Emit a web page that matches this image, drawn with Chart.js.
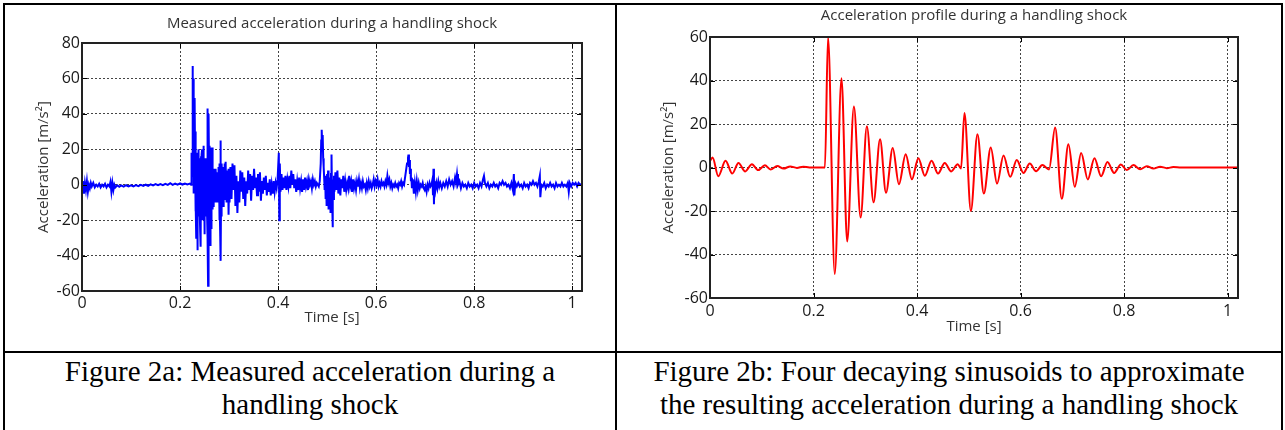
<!DOCTYPE html>
<html>
<head>
<meta charset="utf-8">
<script src="https://cdn.jsdelivr.net/npm/chart.js@4.4.1/dist/chart.umd.min.js"></script>
<style>
  body { margin: 0; background: #fff; }
  #page { position: relative; width: 1285px; height: 430px; overflow: hidden; }
  .rule { position: absolute; background: #000; }
  .box { position: absolute; }
  .caption {
    position: absolute; text-align: center; color: #000;
    font-family: "Liberation Serif", "Times New Roman", serif;
    font-size: 29px; line-height: 33px;
  }
</style>
</head>
<body>
<div id="page">
  <div class="box" style="left:4px; top:4px; width:612px; height:346px;"><canvas id="measuredChart" width="612" height="346"></canvas></div>
  <div class="box" style="left:618px; top:4px; width:663px; height:346px;"><canvas id="profileChart" width="663" height="346"></canvas></div>

  <div class="rule" style="left:3px; top:3px; width:1280px; height:2px;"></div>
  <div class="rule" style="left:3px; top:3px; width:2px; height:427px;"></div>
  <div class="rule" style="left:615px; top:3px; width:2px; height:427px;"></div>
  <div class="rule" style="left:1281px; top:3px; width:2px; height:427px;"></div>
  <div class="rule" style="left:3px; top:351px; width:1280px; height:2px;"></div>

  <div class="caption" style="left:5px; top:355px; width:610px;">Figure 2a: Measured acceleration during a<br>handling shock</div>
  <div class="caption" style="left:617px; top:355px; width:664px;">Figure 2b: Four decaying sinusoids to approximate<br>the resulting acceleration during a handling shock</div>
</div>

<script>
// measured signal as [time s, accel m/s^2]
const measuredQuiet = [
  [0,-2],[0.002,2],[0.004,-5],[0.006,1],[0.008,-3],[0.010,2],[0.012,-4],[0.014,0],[0.016,-2],[0.018,1],
  [0.020,-1],[0.023,1],[0.026,-1.5],[0.029,0],[0.032,-1],[0.035,0.5],[0.038,-1.5],[0.041,0],[0.044,-1],
  [0.047,0.5],[0.050,-1.5],[0.053,0],[0.056,-1],[0.058,1.5],[0.060,-4],[0.062,1],[0.064,-3],[0.066,0],
  [0.068,-1.5],[0.072,-0.3],[0.076,-1.2],[0.080,-0.4],[0.085,-1.1],[0.090,-0.3],[0.095,-1],[0.100,-0.3],
  [0.105,-0.9],[0.110,-0.2],[0.115,-0.8],[0.120,-0.1],[0.125,-0.7],[0.130,0],[0.135,-0.6],[0.140,0.2],
  [0.145,-0.4],[0.150,0.3],[0.155,-0.3],[0.160,0.4],[0.165,-0.2],[0.170,0.5],[0.175,-0.1],[0.180,0.9],
  [0.185,-0.1],[0.190,0.6],[0.195,0],[0.200,0.7],[0.205,0.1],[0.210,0.7],[0.215,0.2],[0.220,0.6]
];
const measuredShock = [
  [0.2225,0],[0.2235,18],[0.2245,5],[0.2255,67],[0.2262,30],[0.2270,60],[0.2278,-5],[0.2285,48],
  [0.2290,25],[0.2295,10],[0.2300,35],[0.2305,49],[0.2308,8],[0.2312,-15],[0.2316,30],[0.2320,20],
  [0.2325,-10],[0.2330,-30],[0.2334,18],[0.2338,12],[0.2342,-8],[0.2345,-22],[0.2348,10],[0.2352,15],
  [0.2356,-14],[0.2360,-37],[0.2364,12],[0.2368,5],[0.2372,-18],[0.2375,-12],[0.2379,14],[0.2383,20],
  [0.2388,-15],[0.2392,-8],[0.2396,15],[0.2400,6],[0.2405,-12],[0.2410,-25],[0.2414,6],[0.2418,14],
  [0.2422,-10],[0.2425,-35],[0.2429,16],[0.2433,8],[0.2438,-14],[0.2442,-5],[0.2446,17],[0.2450,20],
  [0.2454,-8],[0.2458,-20],[0.2462,15],[0.2466,12],[0.2470,-16],[0.2475,-10],[0.2479,10],[0.2483,22],
  [0.2487,-12],[0.2490,0],[0.2494,12],[0.2498,-28],[0.2502,14],[0.2505,5],[0.2508,-10],[0.2512,15],
  [0.2516,-6],[0.2520,-18],[0.2524,10],[0.2528,4],[0.2532,-14],[0.2535,-8],[0.2538,8],[0.2542,12],
  [0.2546,-10],[0.2550,-15],[0.2554,18],[0.2558,43],[0.2562,5],[0.2565,-10],[0.2569,-30],[0.2572,-57],
  [0.2576,0],[0.2580,10],[0.2584,-12],[0.2588,40],[0.2592,8],[0.2596,-20],[0.2600,5],[0.2604,22],
  [0.2608,-12],[0.2612,-34],[0.2616,10],[0.2620,21],[0.2624,-14],[0.2628,-8],[0.2632,12],[0.2636,20],
  [0.2640,-6],[0.2644,-25],[0.2648,6],[0.2652,21],[0.2656,-10],[0.2660,0],[0.2664,-14],[0.2668,10],
  [0.2672,-4],[0.2676,-12],[0.2680,8],[0.2684,6],[0.2688,-9],[0.2692,-5],[0.2696,9],[0.2700,4],
  [0.2704,-10],[0.2708,-8],[0.2712,8],[0.2716,6],[0.2720,-8],[0.2724,-3],[0.2730,9],[0.2735,5],
  [0.2740,-10],[0.2745,-4],[0.2750,7],[0.2755,2],[0.2760,-9],[0.2765,-6],[0.2770,6],[0.2775,3],
  [0.2780,-4],[0.2785,-10],[0.2790,10],[0.2795,4],[0.2798,-8],[0.2802,-20],[0.2806,12],[0.2810,8],
  [0.2814,-6],[0.2818,-26],[0.2822,6],[0.2826,25],[0.2830,-12],[0.2834,-43],[0.2838,0],[0.2842,10],
  [0.2846,-6],[0.2850,-18],[0.2854,12],[0.2858,5],[0.2862,-4],[0.2866,-10],[0.2870,8],[0.2875,3],
  [0.2880,-12],[0.2885,-6],[0.2890,4],[0.2895,10],[0.2900,-8],[0.2905,-3],[0.2910,6],[0.2915,12],
  [0.2920,-2],[0.2925,-8],[0.2930,6],[0.2935,13],[0.2940,-4],[0.2945,5],[0.2950,-2],[0.2955,-10],
  [0.2960,4],[0.2965,8],[0.2970,-10],[0.2975,-5],[0.2980,5],[0.2985,9],[0.2990,-6],[0.2995,-17],
  [0.3000,2],[0.3005,4],[0.3010,-6],[0.3015,-10],[0.3020,8],[0.3025,6]
];
const measuredMid = [
  [0.303,10],[0.305,-8],[0.307,12],[0.309,-3],[0.311,11],[0.313,-12],[0.315,5],[0.317,-16],[0.319,2],
  [0.321,-10],[0.323,8],[0.325,-4],[0.327,7],[0.329,-8],[0.331,4],[0.333,-12],[0.335,2],[0.337,-5],
  [0.339,8],[0.341,-3],[0.343,6],[0.345,-9],[0.347,5],[0.349,-3],[0.351,9],[0.353,-2],[0.355,4],
  [0.357,-6],[0.359,6],[0.361,-4],[0.363,7],[0.365,-9],[0.367,2],[0.369,-5],[0.371,4],[0.373,-3],
  [0.375,5],[0.377,-6],[0.379,1],[0.381,-4],[0.383,3],[0.385,-6],[0.387,0],[0.389,-5],[0.391,2],
  [0.393,-4],[0.395,1],[0.397,-2],[0.399,3],[0.4015,18],[0.4025,-20],[0.4035,12],[0.405,-4],[0.407,6],
  [0.409,-3],[0.411,4],[0.413,-2],[0.415,5],[0.417,-3],[0.419,3],[0.421,-1],[0.423,5],[0.425,-2],
  [0.427,8],[0.429,0],[0.431,6],[0.433,-2],[0.435,3],[0.437,-4],[0.439,2],[0.441,-3],[0.443,4],
  [0.445,-2],[0.447,2],[0.449,-4],[0.451,3],[0.453,-3],[0.455,4],[0.457,-1],[0.459,2],[0.461,-3],
  [0.463,3],[0.465,0],[0.467,2],[0.469,-2],[0.471,3],[0.473,0],[0.475,2],[0.477,-1],[0.479,1],
  [0.481,0],[0.483,-1],[0.485,2],[0.487,12],[0.488,25],[0.489,31],[0.490,22],[0.491,28],[0.492,15],
  [0.493,10],[0.494,4],[0.495,-3],[0.496,5],[0.497,-8],[0.498,3],[0.499,-12],[0.500,6],[0.501,-5],
  [0.502,8],[0.503,-14],[0.504,2],[0.505,-10],[0.506,4],[0.507,-16],[0.508,6],[0.509,17],[0.510,-6],
  [0.511,-24],[0.512,3],[0.513,-8],[0.514,5],[0.515,-4],[0.517,7],[0.519,-3],[0.521,8],[0.523,-5],
  [0.525,4],[0.527,-6],[0.529,3],[0.531,-2],[0.533,5],[0.535,-4],[0.537,2],[0.539,-3],[0.541,1],
  [0.543,-2],[0.545,5],[0.547,-1],[0.549,2],[0.551,-4],[0.553,3],[0.555,-2],[0.557,1],[0.559,-3],
  [0.561,2],[0.563,-1],[0.565,3],[0.567,-2],[0.569,1],[0.571,-2],[0.573,2],[0.575,-1],[0.577,0],
  [0.579,-3],[0.581,1],[0.583,-2],[0.585,2],[0.587,-1],[0.589,1],[0.591,-2],[0.593,0],[0.595,3],
  [0.597,-1],[0.599,2],[0.601,0],[0.603,3],[0.605,-1],[0.607,1],[0.609,-1],[0.611,2],[0.613,0],
  [0.615,1],[0.617,-1],[0.619,2],[0.621,0],[0.623,5],[0.625,1],[0.627,3],[0.629,-1],[0.631,1],
  [0.633,-2],[0.635,0],[0.637,-1],[0.639,1],[0.641,-1],[0.643,0],[0.645,-2],[0.647,1],[0.649,0],
  [0.651,2],[0.653,-1],[0.655,1],[0.657,0],[0.659,4],[0.661,8],[0.663,12],[0.665,15],[0.666,17],
  [0.667,10],[0.668,14],[0.669,6],[0.670,9],[0.671,2],[0.672,4],[0.673,-2],[0.675,3],[0.677,-5],
  [0.679,1],[0.681,-4],[0.683,2],[0.685,-3],[0.687,1],[0.689,-2],[0.691,0],[0.693,-1],[0.695,1],
  [0.697,-2],[0.699,-3],[0.701,-1],[0.703,-4],[0.705,0],[0.707,-2],[0.709,1],[0.711,-1],[0.713,0]
];
const measuredTail = [
  [0.715,3],[0.716,-6],[0.717,9],[0.718,-11],[0.719,2],[0.721,-3],[0.723,1],[0.725,-2],[0.727,2],
  [0.729,-1],[0.731,1],[0.734,-2],[0.737,1],[0.740,-1],[0.743,2],[0.746,-1],[0.749,3],[0.752,0],
  [0.755,2],[0.758,-1],[0.761,4],[0.763,1],[0.765,6],[0.767,0],[0.770,2],[0.773,-2],[0.776,1],
  [0.779,-1],[0.782,0],[0.785,-2],[0.788,1],[0.791,-1],[0.794,0],[0.797,-2],[0.800,1],[0.803,-1],
  [0.806,0],[0.809,-2],[0.812,1],[0.815,-1],[0.818,3],[0.820,5],[0.822,1],[0.825,-1],[0.828,1],
  [0.831,-2],[0.834,0],[0.837,-1],[0.840,1],[0.843,-1],[0.846,0],[0.849,-2],[0.852,1],[0.855,0],
  [0.858,2],[0.861,0],[0.864,1],[0.867,-1],[0.870,0],[0.873,-2],[0.876,1],[0.879,-3],[0.881,6],
  [0.882,-6],[0.884,1],[0.887,-1],[0.890,1],[0.893,-1],[0.896,0],[0.899,-2],[0.902,1],[0.905,-1],
  [0.908,0],[0.911,-2],[0.914,1],[0.917,0],[0.920,2],[0.923,0],[0.926,1],[0.929,-1],[0.932,2],
  [0.934,5],[0.935,-7],[0.937,0],[0.940,-1],[0.943,1],[0.946,-2],[0.949,0],[0.952,-1],[0.955,1],
  [0.958,-1],[0.961,0],[0.964,-2],[0.967,1],[0.970,-1],[0.973,0],[0.976,-1],[0.979,1],[0.982,-1],
  [0.985,0],[0.988,-1],[0.991,1],[0.993,-4],[0.995,1],[0.998,-1],[1.001,1],[1.004,0],[1.007,1],
  [1.010,-1],[1.013,1],[1.016,0],[1.020,0.5]
];

// fitted profile: peaks and troughs
const profilePeaks = [
  [0,3],[0.005,4.6],[0.016,-4.0],[0.030,3.1],[0.043,-2.8],[0.055,2.1],[0.068,-1.8],[0.081,1.5],
  [0.093,-1.2],[0.106,1.0],[0.117,-0.9],[0.130,0.7],[0.142,-0.5],[0.155,0.5],[0.168,-0.2],[0.180,0.4],
  [0.192,0],[0.205,0],[0.222,0],[0.228,60],[0.241,-49],[0.254,41],[0.265,-34],[0.278,28],[0.291,-23],
  [0.303,19],[0.316,-16],[0.3285,13],[0.340,-11.6],[0.353,9],[0.365,-7.7],[0.378,6.1],[0.390,-5.4],
  [0.4025,4.3],[0.415,-3.8],[0.428,3.1],[0.4405,-2.8],[0.4535,2.1],[0.466,-1.8],[0.4786,1.5],
  [0.485,-0.5],[0.4915,25.1],[0.504,-20],[0.5166,15.3],[0.529,-12],[0.5424,9.2],[0.5545,-7.4],
  [0.567,5.5],[0.580,-4.3],[0.5926,3.4],[0.6055,-2.5],[0.6177,1.8],[0.630,-1.7],[0.642,1.1],
  [0.655,-0.9],[0.6667,18.4],[0.6796,-14.4],[0.6924,10.7],[0.7047,-8.9],[0.717,6.7],[0.7298,-5.5],
  [0.7427,4.3],[0.7556,-4.0],[0.7678,2.5],[0.7807,-2.5],[0.7936,1.4],[0.8052,-1.2],[0.818,1.1],
  [0.831,-0.8],[0.8438,0.6],[0.8567,-0.5],[0.8696,0.4],[0.8825,-0.3],[0.895,0.2],[0.91,0],[1.02,0]
];

const xTicks = [0, 0.2, 0.4, 0.6, 0.8, 1];
const measuredYTicks = [-60, -40, -20, 0, 20, 40, 60, 80];
const profileYTicks = [-60, -40, -20, 0, 20, 40, 60];

const toPoints = rows => rows.map(([x, y]) => ({ x: x, y: y }));

// box round the plot plus the small inward tick marks on all sides
const framePlugin = {
  id: 'frame',
  afterDraw(chart) {
    const { ctx, chartArea: a, scales: { x, y } } = chart;
    ctx.save();
    ctx.strokeStyle = '#000';
    ctx.lineWidth = 1;
    ctx.beginPath();
    x.ticks.forEach(t => {
      const px = Math.round(x.getPixelForValue(t.value)) + 0.5;
      ctx.moveTo(px, a.bottom); ctx.lineTo(px, a.bottom - 5);
      ctx.moveTo(px, a.top); ctx.lineTo(px, a.top + 5);
    });
    y.ticks.forEach(t => {
      const py = Math.round(y.getPixelForValue(t.value)) + 0.5;
      ctx.moveTo(a.left, py); ctx.lineTo(a.left + 5, py);
      ctx.moveTo(a.right, py); ctx.lineTo(a.right - 5, py);
    });
    ctx.stroke();
    ctx.lineWidth = 2;
    ctx.strokeStyle = '#222';
    ctx.strokeRect(a.left, a.top, a.right - a.left, a.bottom - a.top);
    ctx.restore();
  }
};

function makeChart(canvasId, cfg) {
  const tickFont = { family: '"Open Sans", sans-serif', size: 16 };
  const labelFont = { family: '"Open Sans", sans-serif', size: 15 };
  return new Chart(document.getElementById(canvasId).getContext('2d'), {
    type: 'line',
    data: {
      datasets: [{
        data: toPoints(cfg.rows),
        borderColor: cfg.color,
        borderWidth: cfg.lineWidth,
        pointRadius: 0,
        tension: cfg.smooth ? 0.4 : 0,
        cubicInterpolationMode: cfg.smooth ? 'monotone' : 'default'
      }]
    },
    options: {
      responsive: false,
      animation: false,
      layout: { padding: { left: 0, right: cfg.padRight, top: 0, bottom: 0 } },
      plugins: {
        legend: { display: false },
        tooltip: { enabled: false },
        title: {
          display: true,
          text: cfg.title,
          fullSize: false,
          color: '#333',
          font: { family: '"Open Sans", sans-serif', size: 15, weight: 'normal' },
          padding: cfg.titlePad
        }
      },
      scales: {
        x: {
          type: 'linear',
          min: 0,
          max: 1.02,
          afterBuildTicks: s => { s.ticks = xTicks.map(v => ({ value: v })); },
          afterFit: s => { s.height = cfg.xAxisHeight; },
          ticks: {
            color: '#1a1a1a', font: tickFont, padding: cfg.xTickPad, maxRotation: 0,
            callback: v => String(v)
          },
          grid: { color: '#444', lineWidth: 1, drawTicks: false },
          border: { display: true, color: '#222', width: 2, dash: [2, 2] },
          title: { display: true, text: 'Time [s]', color: '#333', font: labelFont, padding: { top: 0, bottom: cfg.xTitleBottom } }
        },
        y: {
          type: 'linear',
          min: cfg.yTicks[0],
          max: cfg.yTicks[cfg.yTicks.length - 1],
          afterBuildTicks: s => { s.ticks = cfg.yTicks.map(v => ({ value: v })); },
          afterFit: s => { s.width = cfg.yAxisWidth; },
          ticks: { color: '#1a1a1a', font: tickFont, padding: 2, callback: v => String(v) },
          grid: { color: '#444', lineWidth: 1, drawTicks: false },
          border: { display: true, color: '#222', width: 2, dash: [2, 2] },
          title: { display: true, text: 'Acceleration [m/s²]', color: '#333', font: labelFont, padding: { top: cfg.yTitleTop, bottom: 0 } }
        }
      }
    },
    plugins: [framePlugin]
  });
}

makeChart('measuredChart', {
  rows: measuredQuiet.concat(measuredShock, measuredMid, measuredTail),
  color: '#0000ff',
  lineWidth: 2,
  smooth: false,
  title: 'Measured acceleration during a handling shock',
  titlePad: { top: 10.4, bottom: 10.6 },
  yTicks: measuredYTicks,
  yAxisWidth: 78,
  xAxisHeight: 59,
  padRight: 34,
  xTickPad: 2.4,
  xTitleBottom: 23,
  yTitleTop: 30.5
});

makeChart('profileChart', {
  rows: profilePeaks,
  color: '#ff0000',
  lineWidth: 2,
  smooth: true,
  title: 'Acceleration profile during a handling shock',
  titlePad: { top: 3, bottom: 12 },
  yTicks: profileYTicks,
  yAxisWidth: 92,
  xAxisHeight: 52,
  padRight: 43,
  xTickPad: 4.1,
  xTitleBottom: 14.3,
  yTitleTop: 42
});
</script>
</body>
</html>
